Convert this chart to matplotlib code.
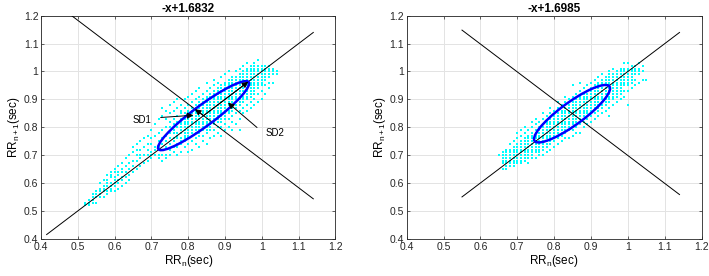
import matplotlib
matplotlib.use('Agg')
import matplotlib.pyplot as plt
from matplotlib.patches import Ellipse
import numpy as np

plt.rcParams['font.family'] = ['Liberation Sans', 'DejaVu Sans']
plt.rcParams['mathtext.fontset'] = 'custom'
plt.rcParams['mathtext.rm'] = 'Liberation Sans'
plt.rcParams['mathtext.it'] = 'Liberation Sans'

# RR_n columns (ms) and the RR_n+1 values seen in each column (ms)
left_cols = [520, 530, 540, 550, 560, 570, 580, 590, 600, 610, 620, 630, 640, 650,
             660, 670, 680, 690, 700, 710, 720, 730, 740, 750, 760, 770, 780, 790,
             800, 810, 820, 830, 840, 850, 860, 870, 880, 890, 900, 910, 920, 930,
             940, 950, 960, 970, 980, 990, 1000, 1010, 1020, 1030, 1040]
left_rows = [
    [520, 530],
    [520, 530, 540],
    [530, 540, 550, 560],
    [530, 550, 560, 570],
    [550, 560, 570, 580, 600],
    [550, 570, 580, 590, 610],
    [560, 570, 590, 600, 610, 630],
    [570, 580, 590, 600, 620, 630, 640],
    [570, 590, 600, 610, 620, 640, 650],
    [580, 600, 610, 630, 640, 660],
    [590, 610, 620, 640, 650, 670],
    [600, 620, 640, 660, 690],
    [610, 630, 650, 670, 700],
    [640, 660, 680, 710, 730],
    [650, 680, 700, 720, 740],
    [660, 690, 700, 720, 750],
    [670, 700, 730, 760],
    [680, 700, 720, 740, 770],
    [690, 700, 710, 740, 760, 790],
    [700, 720, 730, 770, 810],
    [690, 700, 730, 750, 780, 830],
    [680, 700, 720, 740, 760, 790, 840, 870],
    [690, 700, 730, 750, 770, 800, 830, 860],
    [700, 720, 740, 760, 780, 800, 820, 850, 880],
    [710, 730, 750, 760, 780, 790, 810, 830, 860, 890],
    [700, 730, 740, 760, 770, 780, 800, 810, 820, 840, 870, 900],
    [710, 740, 750, 760, 780, 790, 800, 810, 820, 830, 850, 860, 880],
    [730, 750, 760, 770, 780, 790, 800, 810, 820, 830, 840, 850, 870, 900],
    [710, 740, 760, 770, 780, 790, 800, 810, 820, 830, 840, 850, 860, 880, 910],
    [720, 750, 770, 780, 790, 800, 810, 820, 830, 840, 850, 860, 870, 890, 920],
    [740, 760, 780, 790, 800, 810, 820, 830, 840, 850, 860, 870, 880, 900, 930],
    [730, 770, 780, 790, 800, 810, 820, 830, 840, 850, 860, 870, 880, 890, 910, 940],
    [750, 770, 790, 800, 810, 820, 830, 840, 850, 860, 870, 880, 890, 900, 920],
    [740, 780, 790, 800, 810, 820, 830, 840, 850, 860, 870, 880, 890, 900, 910, 930, 960],
    [760, 790, 800, 810, 820, 830, 840, 850, 860, 870, 880, 890, 900, 910, 920, 940],
    [770, 790, 810, 820, 830, 840, 850, 860, 870, 880, 890, 900, 910, 920, 930, 950, 970],
    [780, 800, 820, 830, 840, 850, 860, 870, 880, 890, 900, 910, 920, 930, 940, 960],
    [770, 800, 820, 830, 840, 850, 860, 870, 880, 890, 900, 910, 920, 930, 940, 950, 980],
    [790, 810, 830, 840, 850, 860, 870, 880, 890, 900, 910, 920, 930, 940, 950, 960, 990],
    [800, 830, 850, 860, 870, 880, 890, 900, 910, 920, 930, 940, 950, 960, 970, 1000],
    [790, 820, 840, 860, 870, 880, 890, 900, 910, 920, 930, 940, 950, 960, 970, 980],
    [810, 850, 870, 880, 890, 900, 910, 920, 930, 940, 950, 960, 970, 980, 1000],
    [790, 830, 860, 880, 890, 900, 910, 920, 930, 940, 950, 960, 970, 980, 990, 1010],
    [850, 870, 890, 900, 910, 920, 930, 940, 950, 960, 970, 980, 990, 1000, 1020],
    [860, 880, 900, 910, 920, 930, 940, 950, 960, 970, 980, 990, 1000, 1010, 1030],
    [870, 890, 910, 920, 930, 940, 950, 960, 970, 980, 990, 1000, 1010, 1020],
    [880, 900, 920, 930, 940, 950, 960, 970, 980, 990, 1000, 1010, 1020, 1030],
    [890, 920, 940, 950, 960, 970, 980, 990, 1000, 1010, 1020, 1040],
    [900, 930, 950, 960, 970, 980, 990, 1000, 1010, 1020],
    [920, 950, 970, 980, 990, 1000, 1010, 1020],
    [940, 960, 980, 990, 1000, 1010, 1020],
    [960, 990, 1000, 1010],
    [990, 1000],
]

right_cols = [650, 660, 670, 680, 690, 700, 710, 720, 730, 740, 750, 760, 770, 780,
              790, 800, 810, 820, 830, 840, 850, 860, 870, 880, 890, 900, 910, 920,
              930, 940, 950, 960, 970, 980, 990, 1000, 1010, 1020, 1030, 1040, 1050]
right_rows = [
    [700],
    [650, 670, 680, 690, 700, 710],
    [650, 660, 670, 680, 690, 700, 710, 720],
    [660, 670, 680, 690, 700, 710, 720, 740],
    [660, 670, 680, 690, 700, 710, 720, 730, 750],
    [670, 680, 690, 700, 710, 720, 730, 740, 760, 780],
    [670, 680, 690, 700, 710, 720, 730, 740, 750, 770, 790],
    [680, 690, 700, 710, 720, 730, 740, 750, 760, 780, 800],
    [670, 690, 700, 710, 720, 730, 740, 750, 760, 770, 790],
    [690, 700, 710, 720, 730, 740, 750, 760, 770, 780, 800, 820],
    [690, 710, 720, 730, 740, 750, 760, 770, 780, 790, 810, 830],
    [700, 710, 720, 730, 740, 750, 760, 770, 780, 790, 800, 820],
    [700, 720, 730, 740, 750, 760, 770, 780, 790, 800, 810, 830, 850],
    [710, 730, 740, 750, 760, 770, 780, 790, 800, 810, 820, 840],
    [720, 740, 750, 760, 770, 780, 790, 800, 810, 820, 830, 850, 870],
    [730, 750, 760, 770, 780, 790, 800, 810, 820, 830, 840, 860],
    [740, 760, 770, 780, 790, 800, 810, 820, 830, 840, 850, 870, 890],
    [750, 770, 780, 790, 800, 810, 820, 830, 840, 850, 860, 880],
    [760, 780, 790, 800, 810, 820, 830, 840, 850, 860, 870, 890, 910],
    [760, 790, 800, 810, 820, 830, 840, 850, 860, 870, 880, 900],
    [770, 790, 810, 820, 830, 840, 850, 860, 870, 880, 890, 910, 950],
    [780, 800, 820, 830, 840, 850, 860, 870, 880, 890, 900, 920],
    [780, 810, 830, 840, 850, 860, 870, 880, 890, 900, 910, 930, 960],
    [800, 820, 840, 850, 860, 870, 880, 890, 900, 910, 920, 940],
    [810, 830, 850, 860, 870, 880, 890, 900, 910, 920, 930, 950],
    [820, 840, 860, 870, 880, 890, 900, 910, 920, 930, 940, 960],
    [830, 850, 870, 880, 890, 900, 910, 920, 930, 940, 950, 970],
    [840, 860, 870, 880, 890, 900, 910, 920, 930, 940, 950, 960, 980],
    [850, 870, 880, 890, 900, 910, 920, 930, 940, 950, 960, 970, 990],
    [860, 880, 890, 900, 910, 920, 930, 940, 950, 960, 970, 980],
    [840, 870, 890, 900, 910, 920, 930, 940, 950, 960, 970, 980, 990, 1000],
    [880, 900, 910, 920, 930, 940, 950, 960, 970, 980, 990, 1010],
    [890, 910, 920, 930, 940, 950, 960, 970, 980, 990, 1000],
    [900, 920, 930, 940, 950, 960, 970, 980, 990, 1000, 1010],
    [910, 930, 950, 960, 970, 980, 990, 1000, 1010, 1030],
    [880, 930, 950, 960, 970, 980, 990, 1000, 1010, 1030],
    [940, 960, 970, 980, 990, 1000, 1010, 1020],
    [950, 970, 990, 1000, 1010, 1020],
    [960, 990, 1000, 1010, 1030],
    [970, 1000, 1020],
    [970],
]

titles = ['-x+1.6832', '-x+1.6985']
intercepts = [1.6832, 1.6985]
line_x = [[0.415, 1.14], [0.55, 1.14]]
centers = [0.8416, 0.8485]
sd2 = [0.172, 0.1414]
sd1 = [0.033, 0.036]
ticks = [0.4, 0.5, 0.6, 0.7, 0.8, 0.9, 1.0, 1.1, 1.2]
tick_labels = ['0.4', '0.5', '0.6', '0.7', '0.8', '0.9', '1', '1.1', '1.2']


def points(cols, rows):
    xs, ys = [], []
    for c, r in zip(cols, rows):
        for v in r:
            xs.append(c / 1000)
            ys.append(v / 1000)
    return xs, ys


fig = plt.figure(figsize=(7.09, 2.76), dpi=100)
axes = [fig.add_axes([0.058, 0.135, 0.415, 0.808]),
        fig.add_axes([0.5736, 0.135, 0.416, 0.808])]
data = [points(left_cols, left_rows), points(right_cols, right_rows)]

for i, ax in enumerate(axes):
    xs, ys = data[i]
    ax.plot(xs, ys, 's', color='#00ffff', ms=1.6, mew=0, zorder=2)

    lx = np.array(line_x[i])
    ax.plot(lx, lx, color='k', lw=0.7, zorder=3)
    ax.plot(lx, -lx + intercepts[i], color='k', lw=0.7, zorder=3)

    c = centers[i]
    ax.add_patch(Ellipse((c, c), 2 * sd2[i], 2 * sd1[i], angle=45, fill=False,
                         edgecolor='#0000ff', lw=1.8, zorder=4))

    ax.set_xlim(0.4, 1.2)
    ax.set_ylim(0.4, 1.2)
    ax.set_xticks(ticks)
    ax.set_xticklabels(tick_labels)
    ax.set_yticks(ticks)
    ax.set_yticklabels(tick_labels)
    ax.grid(True, color='#e3e3e3', lw=0.7, zorder=0)
    ax.set_axisbelow(True)
    ax.tick_params(direction='in', length=2.5, width=0.5, labelsize=7.5,
                   colors='#262626', pad=2, top=True, right=True)
    for s in ax.spines.values():
        s.set_color('#262626')
        s.set_linewidth(0.6)
    ax.set_title(titles[i], fontsize=8.5, fontweight='bold', pad=3)
    ax.set_xlabel(r'RR$_\mathregular{n}$(sec)', fontsize=8.5, labelpad=1)
    ax.set_ylabel(r'RR$_\mathregular{n+1}$(sec)', fontsize=8.5, labelpad=1)

# SD arrows on the first panel
ax = axes[0]
c = centers[0]
d = sd2[0] / np.sqrt(2)
e = sd1[0] / np.sqrt(2)
arrow = dict(arrowstyle='-|>', color='k', lw=0.7, mutation_scale=9, shrinkA=0, shrinkB=0)
ax.annotate('', xy=(c + d, c + d), xytext=(c, c), arrowprops=arrow, zorder=5)
ax.annotate('', xy=(c - e, c + e), xytext=(c, c), arrowprops=arrow, zorder=5)
ax.annotate('', xy=(0.814, 0.843), xytext=(0.725, 0.835), arrowprops=arrow, zorder=5)
ax.annotate('', xy=(0.908, 0.888), xytext=(0.987, 0.799), arrowprops=arrow, zorder=5)
ax.text(0.674, 0.826, 'SD1', fontsize=7, ha='center', va='center')
ax.text(1.037, 0.778, 'SD2', fontsize=7, ha='center', va='center')

fig.savefig('out.png', dpi=100)
